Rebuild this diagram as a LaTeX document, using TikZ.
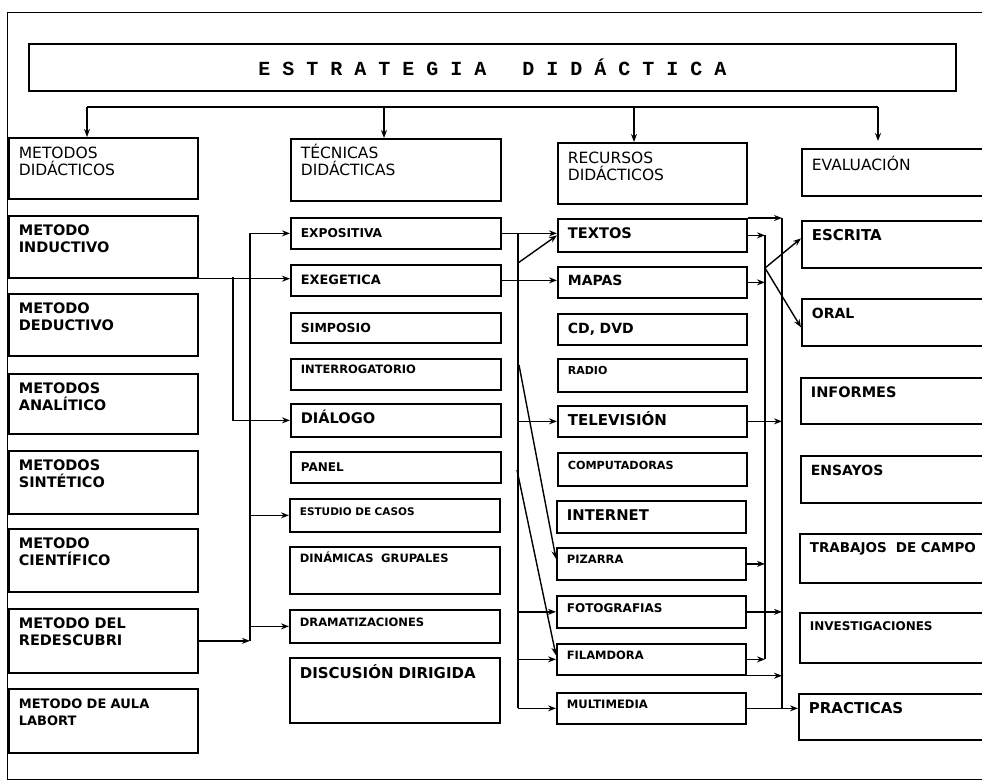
\documentclass[tikz,border=0pt]{standalone}
\usepackage{fontspec}
\setmainfont{DejaVu Sans}
\newfontfamily\titlefont{Liberation Mono}
\usepackage{tikz}
\usetikzlibrary{arrows.meta}

\begin{document}
\begin{tikzpicture}[x=1pt,y=-1pt,
    box/.style={draw, line width=1.7pt, anchor=north west, inner xsep=10pt, inner ysep=0pt,
                align=left, text height=20pt},
    colA/.style={box, text width=169pt},
    colB/.style={box, text width=190pt},
    colC/.style={box, text width=169pt},
    colD/.style={box, text width=188pt},
    fs/.style={font=\fontsize{#1}{17}\selectfont\bfseries},
    hd/.style={font=\fontsize{15.5}{17}\selectfont},
    wire/.style={line width=1.4pt},
    arr/.style={wire, -{Stealth[length=8pt,width=6pt]}}]
        \useasboundingbox (0,0) rectangle (982,782);
        \clip (0,0) rectangle (982,782);

        % outer frame
        \draw[line width=0.8pt] (1000,12) -- (7,12) -- (7,779) -- (1000,779);

        % title
        \node[draw, line width=1.7pt, anchor=north west, minimum width=927pt, minimum height=47pt,
              font=\titlefont\bfseries\fontsize{20}{22}\selectfont] (titulo) at (28,43)
              {E~S~T~R~A~T~E~G~I~A~~~D~I~D~Á~C~T~I~C~A};

        % first column: metodos
        \node[colA, hd, text height=21pt, text depth=40pt] (metodos) at (8,137) {METODOS\\DIDÁCTICOS};
        \node[colA, fs=14.5, text depth=42pt] (inductivo) at (8,215) {METODO\\INDUCTIVO};
        \node[colA, fs=14.5, text depth=42pt] (deductivo) at (8,293) {METODO\\DEDUCTIVO};
        \node[colA, fs=14.5, text depth=40pt] (analitico) at (8,373) {METODOS\\ANALÍTICO};
        \node[colA, fs=14.5, text depth=43pt] (sintetico) at (8,450) {METODOS\\SINTÉTICO};
        \node[colA, fs=14.5, text depth=43pt] (cientifico) at (8,528) {METODO\\CIENTÍFICO};
        \node[colA, fs=14.5, text depth=44pt] (redescubri) at (8,608) {METODO DEL\\REDESCUBRI};
        \node[colA, fs=13, text depth=44pt] (aula) at (8,688) {METODO DE AULA\\LABORT};

        % second column: tecnicas
        \node[colB, hd, text depth=42pt] (tecnicas) at (290,138) {TÉCNICAS\\DIDÁCTICAS};
        \node[colB, fs=12.2, text depth=11pt] (expositiva) at (290,217) {EXPOSITIVA};
        \node[colB, fs=12.9, text depth=11pt] (exegetica) at (290,264) {EXEGETICA};
        \node[colB, fs=12.5, text depth=10pt] (simposio) at (290,312) {SIMPOSIO};
        \node[colB, fs=11.5, text height=15pt, text depth=16pt] (interrog) at (290,358) {INTERROGATORIO};
        \node[colB, fs=14.6, text depth=13pt] (dialogo) at (290,403) {DIÁLOGO};
        \node[colB, fs=12, text depth=11pt] (panel) at (290,451) {PANEL};
        \node[colB, fs=10.5, text height=17pt, text depth=16pt] (estudio) at (289,498) {ESTUDIO DE CASOS};
        \node[colB, fs=11.5, text height=16pt, text depth=31pt] (dinamicas) at (289,546) {DINÁMICAS\ \ GRUPALES};
        \node[colB, fs=11.5, text height=17pt, text depth=16pt] (dramat) at (289,609) {DRAMATIZACIONES};
        \node[colB, fs=15, text height=21pt, text depth=44pt] (discusion) at (289,657) {DISCUSIÓN DIRIGIDA};

        % third column: recursos
        \node[colC, hd, text height=21pt, text depth=40pt] (recursos) at (557,142) {RECURSOS\\DIDÁCTICOS};
        \node[colC, fs=14.6, text depth=13pt] (textos) at (557,218) {TEXTOS};
        \node[colC, fs=14, text height=19pt, text depth=12pt] (mapas) at (557,266) {MAPAS};
        \node[colC, fs=14, text depth=11pt] (cddvd) at (557,313) {CD, DVD};
        \node[colC, fs=11, text height=16pt, text depth=17pt] (radio) at (557,358) {RADIO};
        \node[colC, fs=15, text depth=11pt] (tele) at (557,405) {TELEVISIÓN};
        \node[colC, fs=11.2, text height=17pt, text depth=16pt] (compu) at (557,452) {COMPUTADORAS};
        \node[colC, fs=14.8, text depth=12pt] (internet) at (556,500) {INTERNET};
        \node[colC, fs=11.5, text height=16pt, text depth=16pt] (pizarra) at (556,547) {PIZARRA};
        \node[colC, fs=12, text height=17pt, text depth=15pt] (foto) at (556,595) {FOTOGRAFIAS};
        \node[colC, fs=11.5, text height=16pt, text depth=15pt] (filam) at (556,643) {FILAMDORA};
        \node[colC, fs=11.6, text height=16pt, text depth=15pt] (multi) at (556,692) {MULTIMEDIA};

        % fourth column: evaluacion
        \node[colD, hd, text height=22pt, text depth=25pt] (evaluacion) at (801,148) {EVALUACIÓN};
        \node[colD, fs=15, text depth=27pt] (escrita) at (801,220) {ESCRITA};
        \node[colD, fs=14, text depth=27pt] (oral) at (801,298) {ORAL};
        \node[colD, fs=14.5, text depth=26pt] (informes) at (800,377) {INFORMES};
        \node[colD, fs=14, text depth=27pt] (ensayos) at (800,455) {ENSAYOS};
        \node[colD, fs=13.5, text height=19pt, text depth=30pt] (trabajos) at (799,533) {TRABAJOS\ \ DE CAMPO};
        \node[colD, fs=12, text height=18pt, text depth=32pt] (investig) at (799,612) {INVESTIGACIONES};
        \node[colD, fs=15, text depth=26pt] (practicas) at (798,693) {PRACTICAS};

        % top bus down to the four columns
        \coordinate (dA) at (87,107);
        \coordinate (dB) at (384,107);
        \coordinate (dC) at (634,107);
        \coordinate (dD) at (878,107);
        \draw[wire] (dA) -- (dD);
        \draw[arr] (dA) -- (dA |- metodos.north);
        \draw[arr] (dB) -- (dB |- tecnicas.north);
        \draw[arr] (dC) -- (dC |- recursos.north);
        \draw[arr] (dD) -- ([yshift=7pt]dD |- evaluacion.north);

        % metodos -> tecnicas
        \coordinate (jA) at (233,277);
        \coordinate (jB) at (250,640);
        \draw[arr] (inductivo.south west) -- (inductivo.south west -| exegetica.west);
        \draw[arr] (jA) |- (dialogo.west);
        \draw[arr] (redescubri.east) -- (redescubri.east -| jB);
        \draw[arr] (jB |- redescubri.east) |- (expositiva.west);
        \draw[arr] (jB |- estudio.west) -- (estudio.west);
        \draw[arr] (jB |- dramat.west) -- (dramat.west);

        % tecnicas -> recursos
        \coordinate (jC) at (518,232);
        \coordinate (s1) at (518,263);
        \coordinate (s2) at (519,365);
        \coordinate (s3) at (517,470);
        \draw[arr] (expositiva.east) -- (expositiva.east -| textos.west);
        \draw[arr] (exegetica.east) -- (exegetica.east -| mapas.west);
        \draw[wire] (jC |- expositiva.east) -- (jC |- multi.west);
        \draw[arr] (jC |- tele.west) -- (tele.west);
        \draw[arr] (jC |- foto.west) -- (foto.west);
        \draw[arr] (jC |- filam.west) -- (filam.west);
        \draw[arr] (jC |- multi.west) -- (multi.west);
        \draw[arr] (s1) -- (textos.west);
        \draw[arr] (s2) -- ([yshift=5pt]pizarra.west);
        \draw[arr] (s3) -- ([yshift=4pt]filam.west);

        % recursos -> evaluacion
        \coordinate (jD) at (765,235);
        \coordinate (jE) at (782,219);
        \coordinate (s4) at (765,268);
        \draw[arr] (textos.east) -- (textos.east -| jD);
        \draw[arr] (mapas.east) -- (mapas.east -| jD);
        \draw[arr] (pizarra.east) -- (pizarra.east -| jD);
        \draw[arr] (filam.east) -- (filam.east -| jD);
        \draw[wire] (jD |- textos.east) -- (jD |- filam.east);
        \draw[arr] (s4) -- ([yshift=6pt]escrita.west);
        \draw[arr] (s4) -- ([yshift=-5pt]oral.west);
        \draw[arr] (textos.north east) -- (textos.north east -| jE);
        \draw[wire] (jE |- textos.north) -- (jE |- multi.east);
        \draw[arr] (tele.east) -- (tele.east -| jE);
        \draw[arr] (foto.east) -- (foto.east -| jE);
        \draw[arr] (filam.south east) -- (filam.south east -| jE);
        \draw[arr] (multi.east) -- (multi.east -| practicas.west);
\end{tikzpicture}
\end{document}
